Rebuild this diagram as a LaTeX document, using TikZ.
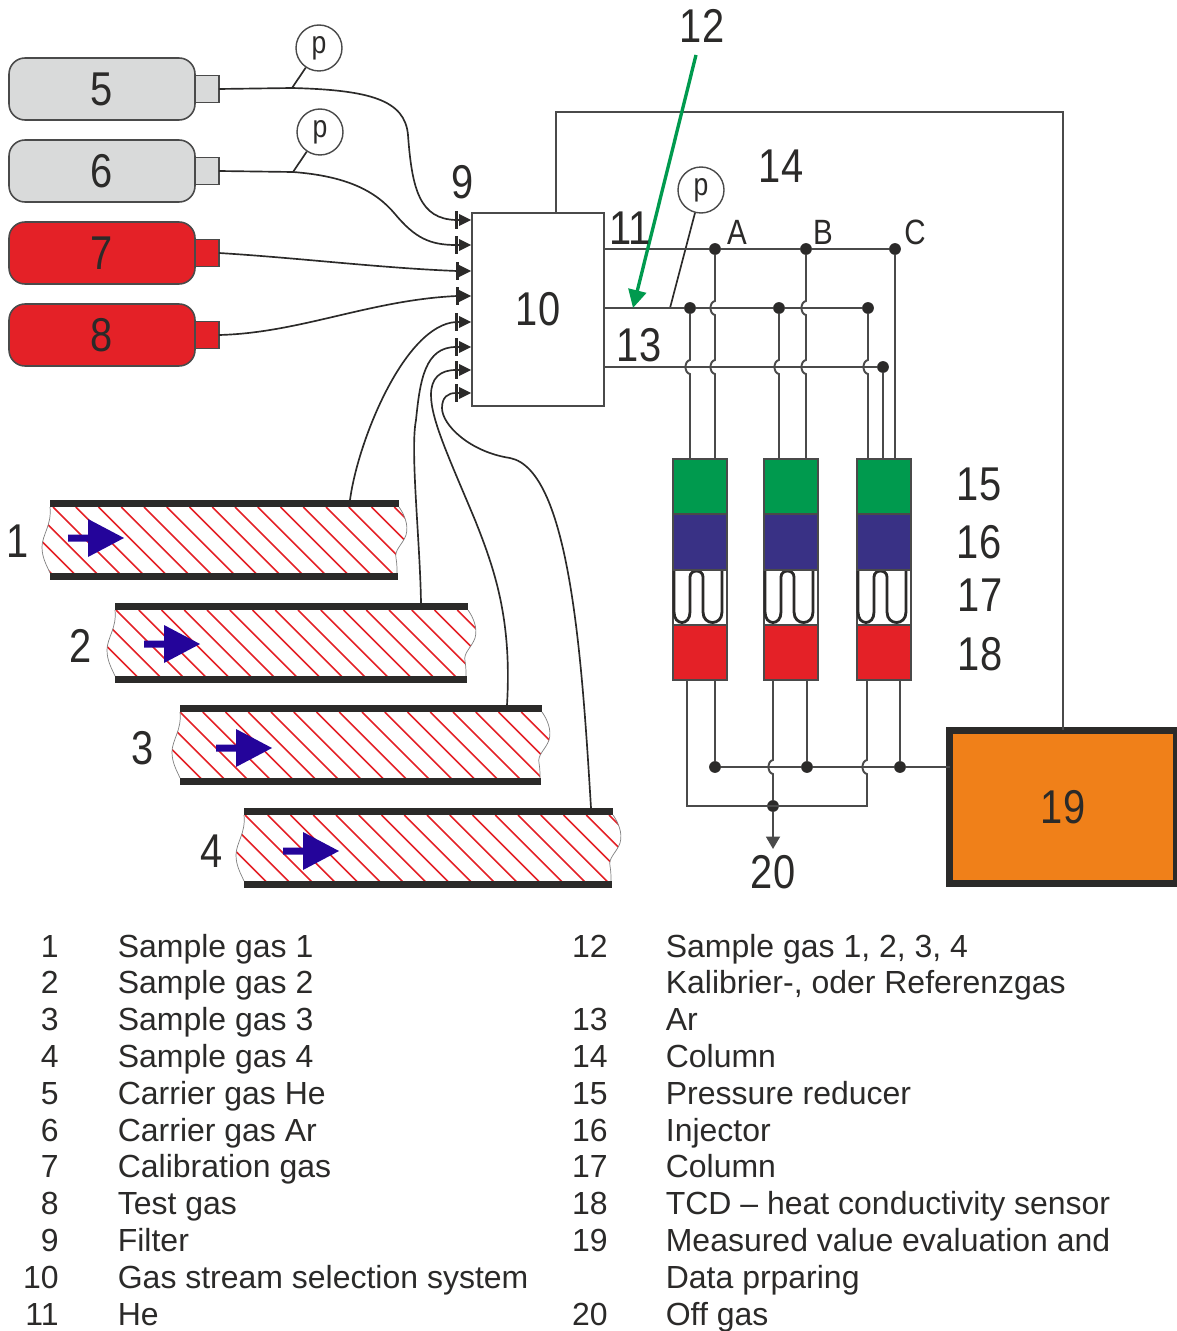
\documentclass[tikz,border=0pt]{standalone}
\usepackage{fontspec}
\setmainfont{Liberation Sans}
\newfontfamily\labelfont[FakeStretch=0.84]{Liberation Sans}
\usetikzlibrary{arrows.meta,positioning}
\definecolor{ink}{HTML}{2B2A29}
\definecolor{wirecol}{HTML}{4A4A4A}
\definecolor{cylgrey}{HTML}{D9DADA}
\definecolor{cylred}{HTML}{E42127}
\definecolor{pressgreen}{HTML}{009A4E}
\definecolor{injblue}{HTML}{393185}
\definecolor{flowblue}{HTML}{24049A}
\definecolor{evalorange}{HTML}{F08019}
% vertical wire that jumps over a horizontal one
\newcommand\hop[2]{-- (#1,#2-7) .. controls (#1-6,#2-6) and (#1-6,#2+6) .. (#1,#2+7)}
\tikzset{
  wire/.style={wirecol, line width=1.1pt},
  pipe/.style={ink, line width=.95pt},
  dot/.style={circle, fill=ink, inner sep=0pt, minimum size=.235cm},
  cyl/.style={draw=wirecol, line width=.9pt, rounded corners=.32cm, minimum width=3.72cm, minimum height=1.24cm, inner sep=0pt, outer sep=0pt, text=ink, font=\labelfont\fontsize{27}{30}\selectfont},
  neck/.style={draw=wirecol, line width=.9pt, minimum width=.48cm, minimum height=.54cm, inner sep=0pt, outer sep=0pt},
  gauge/.style={circle, draw=wirecol, line width=.8pt, fill=white, minimum size=.92cm, inner sep=0pt, text=ink, font=\labelfont\fontsize{18}{20}\selectfont},
  boxno/.style={inner sep=0pt, outer sep=0pt, text=ink, font=\labelfont\fontsize{27}{30}\selectfont},
  bigno/.style={boxno, xshift=.02cm},
  letter/.style={inner sep=0pt, text=ink, xshift=.02cm, font=\labelfont\fontsize{20}{22}\selectfont},
  module/.style={draw=wirecol, line width=1pt, minimum width=1.07cm, minimum height=1.11cm, inner sep=0pt, outer sep=0pt},
  legno/.style={anchor=base east, inner sep=0pt, text=ink, font=\fontsize{18.2}{20}\selectfont},
  legtxt/.style={anchor=base west, inner sep=0pt, text=ink, font=\fontsize{18.2}{20}\selectfont},
}
\begin{document}
\begin{tikzpicture}[x=.02cm, y=-.02cm]
\useasboundingbox (0,0) rectangle (1176,1331);

% cylinders
\foreach \i/\y/\c in {5/89/cylgrey, 6/171/cylgrey, 7/253/cylred, 8/335/cylred} {
  \node[cyl, fill=\c] (cyl\i) at (102,\y) {\i};
  \node[neck, fill=\c, right=0pt of cyl\i] (neck\i) {};
}

% filters
\foreach \i/\x/\y in {1/456/220, 2/456/245, 3/457/271, 4/457/296, 5/456/322, 6/456/347, 7/456/370, 8/456/393} {
  \coordinate (f\i) at (\x,\y);
  \draw[ink, line width=1.7pt] (\x,\y-9) -- (\x,\y+9);
  \draw[pipe] (f\i) -- (460,\y);
  \fill[ink] (459,\y-6) -- (471,\y) -- (459,\y+6) -- cycle;
}

% gas stream selection, evaluation
\node[boxno, draw=wirecol, line width=1.1pt, fill=white, minimum width=2.64cm, minimum height=3.86cm] (box10) at (538,309.5) {10};
\node[boxno, draw=ink, line width=3.97pt, fill=evalorange, minimum width=4.54cm, minimum height=3.07cm] (box19) at (1063,807) {19};

% sample gas tubes
\foreach \i/\xa/\xb/\y/\xf/\yf/\ph in {1/50/399/500/68/538/3, 2/115/468/603/144/644/1, 3/180/542/705/216/748/0, 4/244/613/808/283/851/1} {
  \begin{scope}
    \clip (\xa,\y+7) .. controls (\xa+2,\y+25) and (\xa-8,\y+35) .. (\xa-8,\y+47) .. controls (\xa-8,\y+58) and (\xa-3,\y+66) .. (\xa,\y+73) -- (\xb-2,\y+73) .. controls (\xb-2,\y+68) and (\xb-2,\y+64) .. (\xb-3,\y+58) .. controls (\xb-5,\y+50) and (\xb+4,\y+44) .. (\xb+7,\y+35) .. controls (\xb+10,\y+25) and (\xb+5,\y+14) .. (\xb,\y+7) -- cycle;
    \foreach \k in {-4,...,17}
      \draw[cylred, line width=.9pt] (\xa+\ph+\k*22.75,\y+7) -- ++(70,70);
  \end{scope}
  \draw[gray, line width=.4pt] (\xa,\y+7) .. controls (\xa+2,\y+25) and (\xa-8,\y+35) .. (\xa-8,\y+47) .. controls (\xa-8,\y+58) and (\xa-3,\y+66) .. (\xa,\y+73);
  \draw[gray, line width=.4pt] (\xb-2,\y+73) .. controls (\xb-2,\y+68) and (\xb-2,\y+64) .. (\xb-3,\y+58) .. controls (\xb-5,\y+50) and (\xb+4,\y+44) .. (\xb+7,\y+35) .. controls (\xb+10,\y+25) and (\xb+5,\y+14) .. (\xb,\y+7);
  \fill[ink] (\xa,\y) rectangle (\xb,\y+7);
  \fill[ink] (\xa,\y+73) rectangle (\xb-1,\y+80);
  \fill[flowblue] (\xf,\yf-3.5) -- (\xf+20,\yf-3.5) -- (\xf+20,\yf-19) -- (\xf+56,\yf) -- (\xf+20,\yf+19) -- (\xf+20,\yf+3.5) -- (\xf,\yf+3.5) -- cycle;
}
\coordinate (t1) at (350,500);
\coordinate (t2) at (421,603);
\coordinate (t3) at (507,705);
\coordinate (t4) at (591,808);

% gas lines
\draw[pipe] (neck5.east) -- (292,88) .. controls (370,90) and (405,100) .. (408,135) .. controls (412,190) and (420,219) .. (f1);
\draw[pipe] (neck6.east) -- (293,172) .. controls (345,176) and (375,190) .. (395,214) .. controls (415,238) and (430,245) .. (f2);
\draw[pipe] (neck7.east) .. controls (300,258) and (380,268) .. (f3);
\draw[pipe] (neck8.east) .. controls (300,333) and (370,300) .. (f4);
\draw[pipe] (t1) .. controls (358,440) and (405,325) .. (f5);
\draw[pipe] (t2) .. controls (420,540) and (410,450) .. (416,420) .. controls (420,380) and (425,347) .. (f6);
\draw[pipe] (t3) .. controls (512,620) and (495,570) .. (475,520) .. controls (450,460) and (431,420) .. (431,395) .. controls (431,378) and (440,370) .. (f7);
\draw[pipe] (t4) .. controls (582,660) and (570,470) .. (510,458) .. controls (470,452) and (442,425) .. (442,408) .. controls (442,397) and (448,393) .. (f8);

% pressure gauges
\coordinate (tap1) at (292,88);
\coordinate (tap2) at (293,172);
\coordinate (tap3) at (670,308);
\node[gauge] (p1) at (319,48) {p};
\node[gauge] (p2) at (320,132) {p};
\node[gauge] (p3) at (701,190) {p};
\foreach \i in {1,2,3} \draw[pipe] (p\i) -- (tap\i);

% junctions
\foreach \nm/\x/\y in {dA/715/249, dB/806/249, dC/895/249, dH/690/308, dJ/779/308, dK/868/308, dR/883/367, dL/715/767, dM/807/767, dN/900/767, dO/773/806}
  \node[dot] (\nm) at (\x,\y) {};
\coordinate (o1) at (687,806);
\coordinate (o3) at (867,806);
\coordinate (c14) at (1063,112);
\coordinate (tip20) at (773,849);

% detector columns
\foreach \i/\x in {1/700, 2/791, 3/884} {
  \node[module, fill=white] (col\i) at (\x,597) {};
  \draw[ink, line width=1.6pt] (\x-26,571) -- (\x-26,612) .. controls (\x-26,626) and (\x-10,626) .. (\x-10,612) -- (\x-10,577) .. controls (\x-10,569) and (\x+3,569) .. (\x+3,577) -- (\x+3,612) .. controls (\x+3,626) and (\x+22,626) .. (\x+22,612) -- (\x+22,571);
  \node[module, fill=pressgreen] (press\i) at (\x,486.5) {};
  \node[module, fill=injblue] (inj\i) at (\x,542) {};
  \node[module, fill=cylred] (tcd\i) at (\x,652.5) {};
}

% feed lines
\draw[wire] (box10.north west) ++(84,0) |- (c14) -- (box19.north);
\draw[wire] (box10.east |- dA) -- (dA) -- (dB) -- (dC);
\draw[wire] (box10.east |- dH) -- (dH) -- (dJ) -- (dK);
\draw[wire] (box10.east |- dR) -- (dR);
\draw[wire] (dA) \hop{715}{308} \hop{715}{367} -- (dA |- press1.north);
\draw[wire] (dB) \hop{806}{308} \hop{806}{367} -- (dB |- press2.north);
\draw[wire] (dH) \hop{690}{367} -- (dH |- press1.north);
\draw[wire] (dJ) \hop{779}{367} -- (dJ |- press2.north);
\draw[wire] (dK) \hop{868}{367} -- (dK |- press3.north);
\draw[wire] (dR) -- (dR |- press3.north);
\draw[wire] (dC) -- (dC |- press3.north);

% outlet lines
\draw[wire] (dL |- tcd1.south) -- (dL);
\draw[wire] (dM |- tcd2.south) -- (dM);
\draw[wire] (dN |- tcd3.south) -- (dN);
\draw[wire] (dL) -- (dM) -- (dN) -- (box19.west |- dN);
\draw[wire] (dO |- tcd2.south) \hop{773}{767} -- (dO);
\draw[wire] (o3 |- tcd3.south) \hop{867}{767} -- (o3) -- (o1) -- (o1 |- tcd1.south);
\draw[wire, -{Triangle[length=.25cm, width=.28cm]}] (dO) -- (tip20);

% sample arrow
\coordinate (g12) at (696,55);
\coordinate (g13) at (633,308);
\draw[pressgreen, line width=1.9pt, -{Triangle[length=.36cm, width=.36cm]}] (g12) -- (g13);

% numbers
\foreach \n/\x/\y in {1/17/541, 2/80/646, 3/142/748, 4/211/851, 9/462/182, 11/629/228, 12/701/26, 13/638/345, 14/780/166, 15/978/484, 16/978/542, 17/979/595, 18/979/654, 20/772/872}
  \node[bigno] (no\n) at (\x,\y) {\n};
\node[letter] (lA) at (736,232) {A};
\node[letter] (lB) at (822,232) {B};
\node[letter] (lC) at (914,232) {C};

% legend
\foreach \n/\txt [count=\i from 0] in {1/Sample gas 1, 2/Sample gas 2, 3/Sample gas 3, 4/Sample gas 4, 5/Carrier gas He, 6/Carrier gas Ar, 7/Calibration gas, 8/T{}est gas, 9/Filter, 10/Gas stream selection system, 11/He} {
  \node[legno] (ln\i) at (59,957+36.8*\i) {\n};
  \node[legtxt] (lt\i) at (117.5,957+36.8*\i) {\txt};
}
\foreach \n/\txt [count=\i from 0] in {12/{Sample gas 1, 2, 3, 4}, /{Kalibrier-, oder Referenzgas}, 13/Ar, 14/Column, 15/Pressure reducer, 16/Injector, 17/Column, 18/TCD – heat conductivity sensor, 19/Measured value evaluation and, /Data prparing, 20/Off gas} {
  \node[legno] (rn\i) at (608,957+36.8*\i) {\n};
  \node[legtxt] (rt\i) at (665.5,957+36.8*\i) {\txt};
}
\end{tikzpicture}
\end{document}
